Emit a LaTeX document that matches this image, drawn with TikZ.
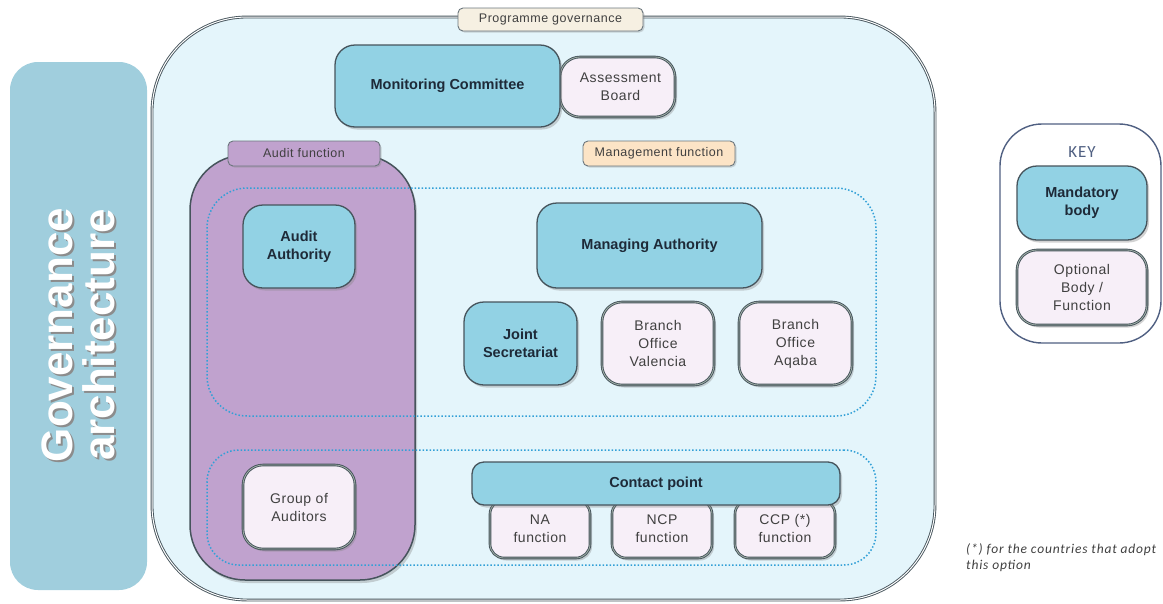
\documentclass[tikz,border=0pt]{standalone}
\usepackage{fontspec}
\setmainfont{Liberation Sans}
\newfontfamily\optfont[LetterSpace=4]{Liberation Sans}
\newfontfamily\calfont[LetterSpace=6]{Carlito}
\usetikzlibrary{shadows}
\definecolor{mand}{RGB}{146,210,228}
\definecolor{opt}{RGB}{247,239,248}
\definecolor{bgmain}{RGB}{228,245,251}
\definecolor{purp}{RGB}{192,162,206}
\definecolor{edge}{RGB}{70,84,92}
\definecolor{optedge}{RGB}{95,120,105}
\definecolor{dotblue}{RGB}{50,160,215}
\definecolor{leftbox}{RGB}{160,206,221}
\definecolor{txtd}{RGB}{30,42,56}
\definecolor{txtg}{RGB}{64,64,64}
\definecolor{beige}{RGB}{246,240,226}
\definecolor{peach}{RGB}{252,228,198}
\definecolor{keyblue}{RGB}{80,96,130}
\tikzset{
  bx/.style={rounded corners=20pt, line width=1.3pt, align=center, inner sep=0pt,
    drop shadow={shadow xshift=2pt, shadow yshift=-2.5pt, opacity=0.35}},
  mandbox/.style={bx, fill=mand, draw=edge, font=\bfseries\fontsize{14.5}{18}\selectfont, text=txtd},
  optbox/.style={bx, fill=opt, draw=edge, double=optedge!60, double distance=0.8pt, line width=0.9pt,
    font=\optfont\fontsize{14}{18}\selectfont, text=txtg},
  tagbox/.style={rounded corners=5pt, line width=0.9pt, draw=edge!80, inner sep=0pt, align=center,
    font=\optfont\fontsize{12.5}{14}\selectfont, text=txtg,
    drop shadow={shadow xshift=1.5pt, shadow yshift=-1.5pt, opacity=0.3}},
  dotbox/.style={draw=dotblue, line width=1.5pt, dotted, rounded corners=40pt},
}
\begin{document}
\begin{tikzpicture}[x=1pt,y=-1pt]
\useasboundingbox (0,0) rectangle (1163,603);
% left title box
\node[draw=none, fill=leftbox, rounded corners=28pt, minimum width=137pt, minimum height=528pt, inner sep=0] (leftb) at (78.5,326) {};
\node[rotate=90, font=\bfseries\fontsize{44}{46}\selectfont, text=black!45, align=center] (titshadow) at (80.5,337) {Governance\\[-4pt]architecture};
\node[rotate=90, font=\bfseries\fontsize{44}{46}\selectfont, text=white, align=center] (tit) at (78.5,335) {Governance\\[-4pt]architecture};
% main box
\node[draw=edge, double=white, double distance=1pt, line width=0.9pt, fill=bgmain, rounded corners=95pt, minimum width=783pt, minimum height=583pt, inner sep=0] (mainb) at (543.5,308.5) {};
\node[tagbox, fill=beige, minimum width=185pt, minimum height=23pt] (pg) at (550.5,19.5) {Programme governance};
% audit box
\node[draw=edge, line width=1.5pt, fill=purp, rounded corners=55pt, minimum width=225pt, minimum height=425pt, inner sep=0,
  drop shadow={shadow xshift=2pt, shadow yshift=-3pt, opacity=0.35}] (auditb) at (302.5,367.5) {};
\node[tagbox, fill=purp, minimum width=152pt, minimum height=25pt] (af) at (304,153.5) {Audit function};
\node[tagbox, fill=peach, minimum width=152pt, minimum height=25pt] (mf) at (659,153.5) {Management function};
% dotted regions
\node[dotbox, minimum width=669pt, minimum height=228pt, inner sep=0] (reg1) at (541.5,302) {};
\node[dotbox, minimum width=669pt, minimum height=115pt, inner sep=0, rounded corners=32pt] (reg2) at (541.5,507.5) {};
% top bodies
\node[optbox, minimum width=115pt, minimum height=60pt] (ab) at (617.5,87) {\hspace*{6pt}Assessment\\\hspace*{6pt}Board};
\node[mandbox, minimum width=225pt, minimum height=82pt] (mc) at (447.5,86) {Monitoring Committee};
% audit
\node[mandbox, minimum width=112pt, minimum height=83pt] (aa) at (299,246.5) {Audit\\Authority};
\node[optbox, minimum width=112pt, minimum height=84pt] (ga) at (299,507) {Group of\\Auditors};
% management
\node[mandbox, minimum width=225pt, minimum height=85pt] (ma) at (649.5,245.5) {Managing Authority};
\node[mandbox, minimum width=113pt, minimum height=83pt] (js) at (520.5,343.5) {Joint\\Secretariat};
\node[optbox, minimum width=112pt, minimum height=83pt] (bv) at (658,343.5) {Branch\\Office\\Valencia};
\node[optbox, minimum width=113pt, minimum height=83pt] (bq) at (795.5,343.5) {Branch\\Office\\Aqaba};
% contact point
\node[optbox, rounded corners=14pt, minimum width=100pt, minimum height=58pt] (na) at (540,529) {\\[-8pt]NA\\function};
\node[optbox, rounded corners=14pt, minimum width=100pt, minimum height=58pt] (ncp) at (662,529) {\\[-8pt]NCP\\function};
\node[optbox, rounded corners=14pt, minimum width=100pt, minimum height=58pt] (ccp) at (785,529) {\\[-8pt]CCP (*)\\function};
\node[mandbox, rounded corners=12pt, minimum width=368pt, minimum height=43pt] (cp) at (656,483.5) {Contact point};
% key
\node[draw=keyblue, line width=1.4pt, fill=white, rounded corners=42pt, minimum width=161pt, minimum height=219pt, inner sep=0] (keyb) at (1080.5,233.5) {};
\node[font=\calfont\fontsize{17}{19}\selectfont, text=keyblue] (keyt) at (1082,152) {KEY};
\node[mandbox, minimum width=130pt, minimum height=74pt] (km) at (1082,203) {Mandatory\\body};
\node[optbox, minimum width=130pt, minimum height=75pt] (ko) at (1082,287.5) {Optional\\Body /\\Function};
% footnote
\node[anchor=north west, font=\calfont\itshape\fontsize{13.5}{16}\selectfont, text=txtg, align=left, inner sep=0] (fn) at (966,543) {(*) for the countries that adopt\\this option};
\end{tikzpicture}
\end{document}
